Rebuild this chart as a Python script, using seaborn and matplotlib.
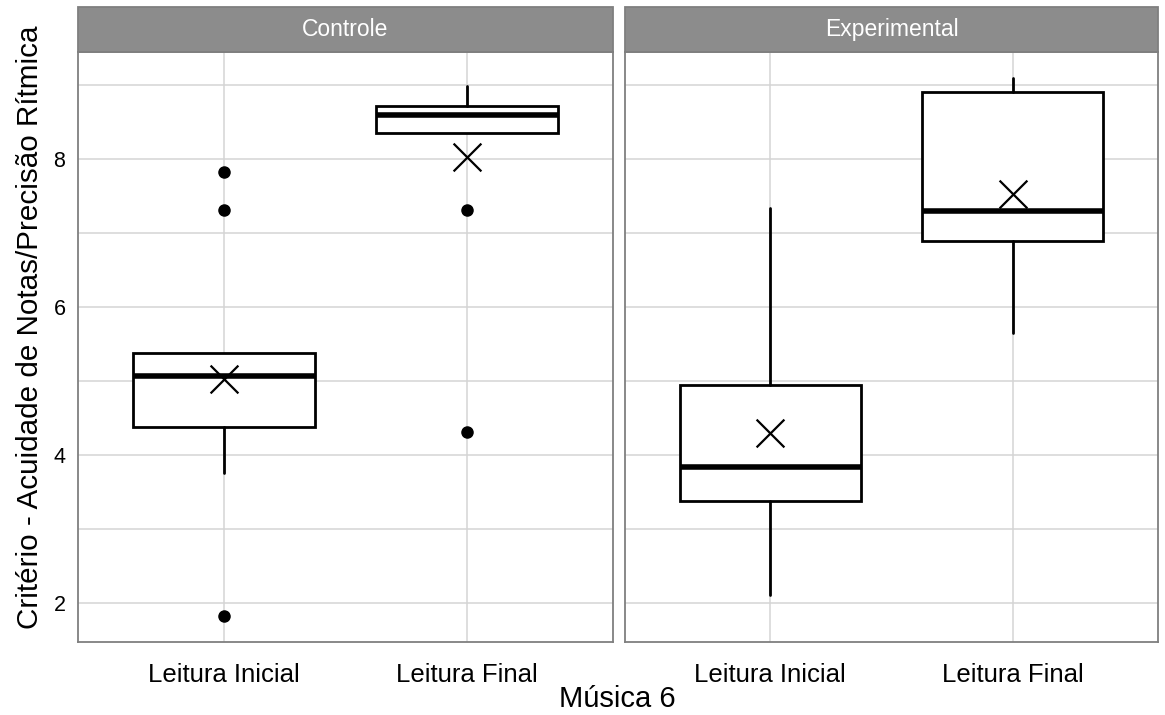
import matplotlib
matplotlib.use("Agg")
import matplotlib.pyplot as plt
from matplotlib.patches import Rectangle
import pandas as pd
import seaborn as sns

# Data
groups = ["Controle", "Experimental"]
readings = ["Leitura Inicial", "Leitura Final"]

# order inside each list: Leitura Inicial, Leitura Final
controle_whislo = [3.75, 8.35]
controle_q1 = [4.37, 8.35]
controle_median = [5.07, 8.60]
controle_q3 = [5.37, 8.72]
controle_whishi = [5.37, 8.98]
controle_mean = [5.03, 8.02]
controle_fliers = [[7.82, 7.31, 1.82], [7.31, 4.31]]

experimental_whislo = [2.11, 5.65]
experimental_q1 = [3.37, 6.89]
experimental_median = [3.84, 7.29]
experimental_q3 = [4.95, 8.90]
experimental_whishi = [7.34, 9.10]
experimental_mean = [4.29, 7.53]
experimental_fliers = [[], []]

y_ticks = [2, 4, 6, 8]
x_label = "Música 6"
y_label = "Critério - Acuidade de Notas/Precisão Rítmica"

group_data = {
    "Controle": (controle_whislo, controle_q1, controle_median, controle_q3,
                 controle_whishi, controle_mean, controle_fliers),
    "Experimental": (experimental_whislo, experimental_q1, experimental_median,
                     experimental_q3, experimental_whishi, experimental_mean,
                     experimental_fliers),
}

sns.set_theme(style="whitegrid")
plt.rcParams["font.family"] = ["Liberation Sans", "DejaVu Sans"]
plt.rcParams["text.color"] = "black"

W, H = 1165, 715
fig = plt.figure(figsize=(W / 100, H / 100), dpi=100)

# panel extents in pixels (left, right), shared top/bottom
panel_x = [(78, 613), (625, 1158)]
top_px, bottom_px = 52, 642
strip_px = 45

border_col = "#7f7f7f"
grid_col = "#d4d4d4"

axes = []
for x0, x1 in panel_x:
    ax = fig.add_axes([x0 / W, 1 - bottom_px / H, (x1 - x0) / W,
                       (bottom_px - top_px) / H])
    axes.append(ax)

for ax, group in zip(axes, groups):
    whislo, q1, med, q3, whishi, mean, fliers = group_data[group]
    stats = []
    for k, label in enumerate(readings):
        stats.append({
            "label": label, "whislo": whislo[k], "q1": q1[k], "med": med[k],
            "q3": q3[k], "whishi": whishi[k], "fliers": fliers[k],
        })
    ax.bxp(
        stats, positions=range(len(readings)), widths=0.75,
        showcaps=False, patch_artist=True,
        boxprops=dict(facecolor="white", edgecolor="black", linewidth=2),
        medianprops=dict(color="black", linewidth=4, solid_capstyle="butt"),
        whiskerprops=dict(color="black", linewidth=2),
        flierprops=dict(marker="o", markerfacecolor="black",
                        markeredgecolor="black", markersize=8),
        zorder=3,
    )

    df = pd.DataFrame({"pos": range(len(readings)), "mean": mean})
    sns.scatterplot(data=df, x="pos", y="mean", marker="x", s=400,
                    color="black", linewidth=1.6, ax=ax, zorder=4)

    ax.set_xlim(-0.6, 1.6)
    ax.set_ylim(1.47, 9.445)
    ax.set_xticks(range(len(readings)))
    ax.set_xticklabels(readings, fontsize=18.5, color="black")
    ax.set_yticks(y_ticks)
    ax.set_yticks([3, 5, 7, 9], minor=True)
    ax.set_xlabel("")
    ax.set_ylabel("")

    ax.grid(True, which="major", color=grid_col, linewidth=1.1)
    ax.grid(True, which="minor", axis="y", color=grid_col, linewidth=1.1)
    ax.set_facecolor("white")
    for sp in ax.spines.values():
        sp.set_color(border_col)
        sp.set_linewidth(1.3)
    ax.tick_params(axis="x", which="major", length=5, width=1.1,
                   color=border_col, pad=10)
    ax.tick_params(axis="y", which="major", length=5, width=1.1,
                   color=border_col, labelsize=15.5, labelcolor="black", pad=4)
    ax.tick_params(axis="y", which="minor", length=0)

    # facet strip
    sh = strip_px / (bottom_px - top_px)
    ax.add_patch(Rectangle((0, 1), 1, sh, transform=ax.transAxes,
                           clip_on=False, facecolor="#8c8c8c",
                           edgecolor=border_col, linewidth=1.3))
    ax.text(0.5, 1 + sh / 2, group, transform=ax.transAxes, ha="center",
            va="center", color="white", fontsize=16.5)

axes[1].tick_params(axis="y", which="major", labelleft=False, length=0)

fig.text(0.53, 0.022, x_label, ha="center", va="center", fontsize=21)
fig.text(0.026, 1 - 327 / H, y_label, ha="center", va="center",
         rotation=90, fontsize=21.3)

fig.savefig("out.png", dpi=100)
